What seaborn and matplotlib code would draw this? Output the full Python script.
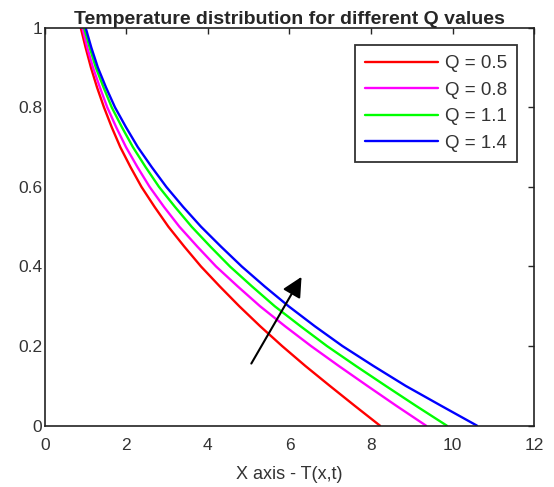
import numpy as np
import pandas as pd
import matplotlib
matplotlib.use('Agg')
import matplotlib.pyplot as plt
import seaborn as sns

# values (x position of each curve at a given height)
y_levels = [1.00, 0.95, 0.90, 0.85, 0.80, 0.75, 0.70, 0.65, 0.60, 0.55, 0.50,
            0.45, 0.40, 0.35, 0.30, 0.25, 0.20, 0.15, 0.10, 0.05, 0.00]
q_labels = ['Q = 0.5', 'Q = 0.8', 'Q = 1.1', 'Q = 1.4']
x_q05 = [0.88, 1.00, 1.13, 1.28, 1.45, 1.64, 1.85, 2.10, 2.37, 2.69, 3.03,
         3.42, 3.83, 4.29, 4.77, 5.28, 5.82, 6.39, 6.99, 7.60, 8.22]
x_q08 = [0.92, 1.04, 1.18, 1.35, 1.53, 1.75, 1.99, 2.27, 2.57, 2.92, 3.30,
         3.74, 4.20, 4.73, 5.28, 5.89, 6.53, 7.21, 7.91, 8.62, 9.35]
x_q11 = [0.96, 1.10, 1.25, 1.44, 1.64, 1.89, 2.16, 2.47, 2.80, 3.19, 3.60,
         4.06, 4.54, 5.08, 5.64, 6.27, 6.92, 7.63, 8.36, 9.10, 9.86]
x_q14 = [1.00, 1.14, 1.30, 1.50, 1.72, 1.99, 2.28, 2.62, 2.98, 3.39, 3.83,
         4.32, 4.83, 5.39, 5.98, 6.62, 7.30, 8.06, 8.85, 9.72, 10.60]
colors = ['#ff0000', '#ff00ff', '#00ff00', '#0000ff']

rows = []
for lab, xs in zip(q_labels, [x_q05, x_q08, x_q11, x_q14]):
    for xv, yv in zip(xs, y_levels):
        rows.append({'T': xv, 'Y': yv, 'Q': lab})
df = pd.DataFrame(rows)

sns.set_style('white')
plt.rcParams['font.family'] = ['Liberation Sans', 'DejaVu Sans']

fig = plt.figure(figsize=(5.54, 4.87), dpi=100)
ax = fig.add_axes([0.081, 0.126, 0.883, 0.817])

sns.lineplot(data=df, x='T', y='Y', hue='Q', sort=False, palette=colors,
             linewidth=1.7, ax=ax, estimator=None)

# arrow showing the direction of increasing Q
ax.annotate('', xy=(6.33, 0.38), xytext=(5.03, 0.15),
            arrowprops=dict(arrowstyle='-|>', color='black', lw=1.5,
                            mutation_scale=30))

ax.set_xlim(0, 12)
ax.set_ylim(0, 1)
ax.set_xticks([0, 2, 4, 6, 8, 10, 12])
ax.set_yticks([0, 0.2, 0.4, 0.6, 0.8, 1])
ax.set_yticklabels(['0', '0.2', '0.4', '0.6', '0.8', '1'])
ax.tick_params(direction='in', top=True, right=True, length=4, width=1,
               labelsize=12.5, labelcolor='#333333', pad=2)
ax.tick_params(axis='x', pad=9)
for s in ax.spines.values():
    s.set_linewidth(1.2)
    s.set_color('#222222')

ax.set_xlabel('X axis - T(x,t)', fontsize=13, color='#333333', labelpad=9)
ax.set_ylabel('')
ax.set_title('Temperature distribution for different Q values',
             fontsize=14, fontweight='bold', pad=3)

leg = ax.legend(loc='upper right', fontsize=13.5, frameon=True, fancybox=False,
                edgecolor='black', handlelength=3.9, borderaxespad=0.9,
                handletextpad=0.35, labelspacing=0.5, borderpad=0.55)
leg.get_frame().set_linewidth(1.3)
for t in leg.get_texts():
    t.set_color('#333333')

fig.savefig('out.png', dpi=100)
